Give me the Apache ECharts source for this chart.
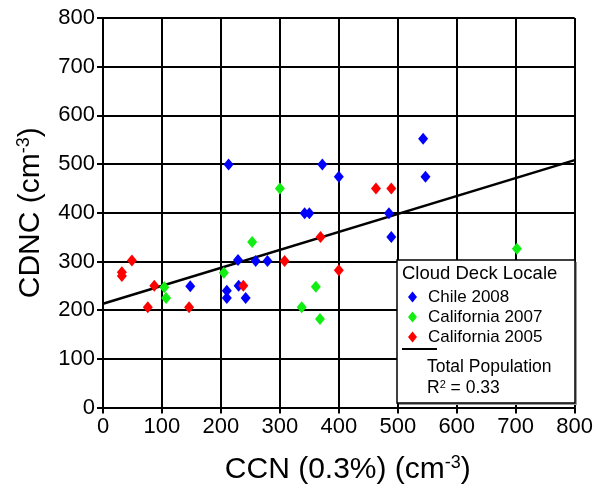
<!DOCTYPE html>
<html>
<head>
<meta charset="utf-8">
<title>CDNC vs CCN</title>
<script src="https://cdn.jsdelivr.net/npm/echarts@6/dist/echarts.min.js"></script>
<style>
  html, body { margin: 0; padding: 0; background: #fff; }
  #main { width: 596px; height: 490px; }
</style>
</head>
<body>
<div id="main"></div>
<script>
// data: [CCN, CDNC]
var chile2008 = [[213,499],[372,499],[400,474],[543,552],[547,474],[342,399],[350,399],
  [485,399],[489,350],[229,303],[259,301],[279,301],[148,249],[210,240],[210,225],
  [230,250],[242,225]];
var california2007 = [[300,450],[253,340],[205,277],[104,247],[107,225],[361,248],
  [337,206],[368,182],[702,326]];
var california2005 = [[32,278],[32,270],[49,302],[87,250],[76,206],[146,206],[238,250],
  [308,301],[369,350],[400,282],[463,450],[489,450]];
var fitLine = [[0,213],[800,508]];
var seriesNames = ['Chile 2008', 'California 2007', 'California 2005'];
var colors = ['#0000ff', '#11ee11', '#ff0000'];

var font = 'Liberation Sans, Arial, Helvetica, sans-serif';
var myChart = echarts.init(document.getElementById('main'));

function scatter(name, data, color) {
  return {
    name: name, type: 'scatter', data: data,
    symbol: 'diamond', symbolSize: [10, 12],
    itemStyle: { color: color, opacity: 1 }, z: 3
  };
}

function nameStyle(size, pad) {
  return {
    color: '#000', fontFamily: font, padding: pad,
    rich: {
      a: { fontSize: size, fontFamily: font, color: '#000' },
      s: { fontSize: Math.round(size * 0.6), fontFamily: font, color: '#000',
           verticalAlign: 'top', padding: [0, 0, Math.round(size * 0.42), 0] }
    }
  };
}

var axisCommon = {
  type: 'value', min: 0, max: 800, interval: 100,
  axisLine: { lineStyle: { color: '#000', width: 2 } },
  axisTick: { show: true, length: 6, lineStyle: { color: '#000', width: 2 } },
  splitLine: { show: true, lineStyle: { color: '#000', width: 2 } },
  axisLabel: { color: '#000', fontSize: 22, fontFamily: font, margin: 8 },
  nameLocation: 'middle'
};

myChart.setOption({
  animation: false,
  grid: { left: 103, right: 16, top: 18, bottom: 79 },
  xAxis: Object.assign({}, axisCommon, {
    name: '{a|CCN (0.3%) (cm}{s|-3}{a|)}', nameGap: 47,
    nameTextStyle: nameStyle(30, [0, 0, 0, 18])
  }),
  yAxis: Object.assign({}, axisCommon, {
    name: '{a|CDNC (cm}{s|-3}{a|)}', nameGap: 57,
    nameTextStyle: nameStyle(30, [0, 0, 0, 0])
  }),
  legend: {
    data: seriesNames, orient: 'vertical', left: 403, top: 282,
    icon: 'diamond', itemWidth: 9, itemHeight: 11, itemGap: 0,
    textStyle: { fontSize: 17, fontFamily: font, color: '#000', lineHeight: 20, padding: [0, 0, 0, 6] },
    z: 10
  },
  graphic: [
    { type: 'rect', shape: { x: 399, y: 262, width: 178, height: 143 },
      style: { fill: '#999' }, z: 8 },
    { type: 'rect', shape: { x: 397, y: 260, width: 178, height: 143 },
      style: { fill: '#fff', stroke: '#000', lineWidth: 1.5 }, z: 9 },
    { type: 'text', left: 402, top: 264, z: 10,
      style: { text: 'Cloud Deck Locale', font: '18.5px ' + font, fill: '#000' } },
    { type: 'line', shape: { x1: 402, y1: 349, x2: 437, y2: 349 },
      style: { stroke: '#000', lineWidth: 2 }, z: 10 },
    { type: 'text', left: 427, top: 358, z: 10,
      style: { text: 'Total Population', font: '17.5px ' + font, fill: '#000' } },
    { type: 'text', left: 427, top: 379, z: 10,
      style: {
        text: '{a|R}{s|2}{a| = 0.33}',
        rich: {
          a: { fontSize: 17.5, fontFamily: font, fill: '#000' },
          s: { fontSize: 11, fontFamily: font, fill: '#000', verticalAlign: 'top', padding: [0, 0, 7, 0] }
        }
      } }
  ],
  series: [
    scatter(seriesNames[0], chile2008, colors[0]),
    scatter(seriesNames[1], california2007, colors[1]),
    scatter(seriesNames[2], california2005, colors[2]),
    {
      name: 'Total Population', type: 'line', data: fitLine,
      symbol: 'none', lineStyle: { color: '#000', width: 2.5 }, z: 2,
      silent: true
    }
  ]
});
</script>
</body>
</html>
